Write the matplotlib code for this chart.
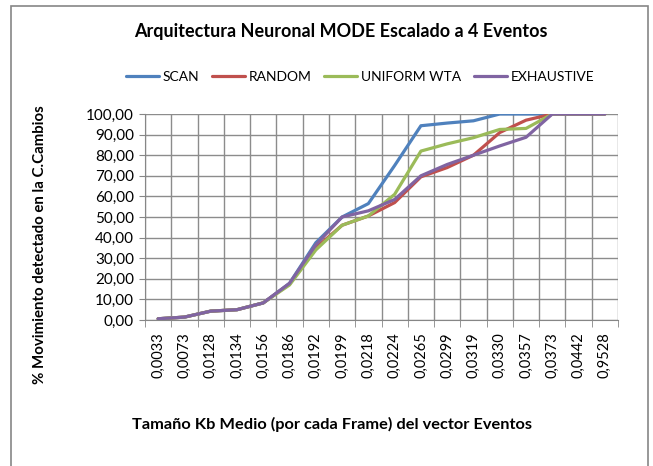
import numpy as np
import matplotlib.pyplot as plt
from matplotlib.patches import Rectangle

plt.rcParams['font.family'] = ['Lato', 'DejaVu Sans']

# Tamaño Kb medio por frame (categorías del eje X)
categorias = ["0,0033", "0,0073", "0,0128", "0,0134", "0,0156", "0,0186",
              "0,0192", "0,0199", "0,0218", "0,0224", "0,0265", "0,0299",
              "0,0319", "0,0330", "0,0357", "0,0373", "0,0442", "0,9528"]

# % movimiento detectado en la C.Cambios
scan = [0.6, 1.4, 4.3, 5.0, 8.3, 17.8, 37.5, 50.0, 56.5, 75.0, 94.3, 95.6,
        96.7, 100, 100, 100, 100, 100]
random_ = [0.6, 1.4, 4.3, 5.0, 8.3, 17.5, 35.0, 46.0, 50.5, 57.0, 69.5, 74.0,
           80.0, 91.0, 97.0, 100, 100, 100]
uniform_wta = [0.6, 1.4, 4.3, 5.0, 8.3, 17.0, 34.0, 46.0, 50.5, 61.0, 82.0, 85.5,
               88.5, 92.5, 93.0, 100, 100, 100]
exhaustive = [0.6, 1.4, 4.3, 5.0, 8.3, 17.8, 36.5, 50.0, 53.0, 58.5, 70.0, 75.5,
              80.0, 84.5, 88.7, 100, 100, 100]

series = [("SCAN", scan, "#4F81BD"),
          ("RANDOM", random_, "#C0504D"),
          ("UNIFORM WTA", uniform_wta, "#9BBB59"),
          ("EXHAUSTIVE", exhaustive, "#8064A2")]

fig = plt.figure(figsize=(6.53, 4.66), dpi=100)
W, H = 653, 466
ax = fig.add_axes([145 / W, 1 - 320 / H, (618 - 145) / W, (320 - 114) / H])

x = np.arange(len(categorias))
for nombre, valores, color in series:
    ax.plot(x, valores, color=color, lw=2.3, label=nombre,
            solid_joinstyle='round', solid_capstyle='round')

ax.set_xlim(-0.5, len(categorias) - 0.5)
ax.set_ylim(0, 100)

# ticks y rejilla
ax.set_yticks(np.arange(0, 101, 10))
ax.set_yticklabels([f"{v:.2f}".replace(".", ",") for v in range(0, 101, 10)],
                   fontsize=11)
ax.set_xticks(x)
ax.set_xticklabels(categorias, rotation=90, fontsize=10.5)
ax.set_xticks(np.arange(-0.5, len(categorias)), minor=True)
ax.tick_params(axis='x', which='major', length=0, pad=9)
ax.tick_params(axis='x', which='minor', length=5, color='#868686', direction='out')
ax.tick_params(axis='y', length=4, color='#868686', pad=4)
ax.grid(True, axis='y', which='major', color='#8c8c8c', lw=1)
ax.grid(True, axis='x', which='minor', color='#8c8c8c', lw=1)
ax.set_axisbelow(True)
for lado in ['top', 'right']:
    ax.spines[lado].set_visible(False)
for lado in ['left', 'bottom']:
    ax.spines[lado].set_color('#868686')

# textos
fig.text(341 / W, 1 - 32 / H, "Arquitectura Neuronal MODE Escalado a 4 Eventos",
         ha='center', va='center', fontsize=13, fontweight='bold')
fig.text(40 / W, 1 - 245 / H, "% Movimiento detectado en la C.Cambios",
         ha='center', va='center', rotation=90, fontsize=10.8, fontweight='bold')
fig.text(332 / W, 1 - 424 / H, "Tamaño Kb Medio (por cada Frame) del vector Eventos",
         ha='center', va='center', fontsize=11.8, fontweight='bold')

fig.legend(loc='center', bbox_to_anchor=(360 / W, 1 - 77 / H), ncol=4,
           frameon=False, fontsize=10, handlelength=2.4, handletextpad=0.25,
           columnspacing=0.9)

# marco del gráfico
fig.patches.append(Rectangle((11 / W, -0.05), (648 - 11) / W, 1.05 - 6 / H,
                             transform=fig.transFigure, fill=False,
                             edgecolor='#868686', lw=1.2))

fig.savefig("out.png", dpi=100)
